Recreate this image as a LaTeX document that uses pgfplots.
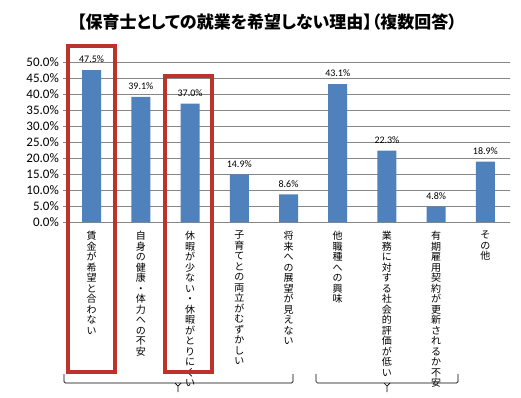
\documentclass[border=0pt]{standalone}
\usepackage{pgfplots}
\pgfplotsset{compat=1.18}
\usepackage{fontspec}
\setmainfont{Noto Sans CJK JP}
\newfontfamily\numfont{Carlito}
\newfontfamily\titlefont[RawFeature=+palt]{Noto Sans CJK JP}
\definecolor{barblue}{RGB}{79,129,189}
\definecolor{boxred}{RGB}{190,50,46}
\definecolor{gridgray}{RGB}{134,134,134}
\makeatletter
\newcommand\vt[1]{\vbox{\baselineskip=10.5pt\lineskiplimit=-20pt\lineskip=0pt\@vt#1\@nil}}
\def\@vt#1{\ifx#1\@nil\else\hbox to 11pt{\hss#1\hss}\expandafter\@vt\fi}
\makeatother
\begin{document}
\begin{tikzpicture}
\useasboundingbox (-67pt,-175pt) rectangle (454pt,222pt);
\begin{axis}[
  at={(0pt,0pt)}, anchor=south west,
  scale only axis, width=443pt, height=160pt,
  xmin=-0.5, xmax=8.5, ymin=0, ymax=50,
  ybar, bar width=19pt,
  ytick={0,5,...,50},
  xtick={0,...,8},
  xticklabels={\vt{賃金が希望と合わない},\vt{自身の健康・体力への不安},\vt{休暇が少ない・休暇がとりにくい},\vt{子育てとの両立がむずかしい},\vt{将来への展望が見えない},\vt{他職種への興味},\vt{業務に対する社会的評価が低い},\vt{有期雇用契約が更新されるか不安},\vt{その他}},
  xticklabel style={font=\fontsize{10}{10.5}\selectfont, anchor=north, inner sep=0pt, yshift=-5pt},
  x tick style={draw=none},
  y tick style={gridgray, line width=0.8pt},
  tick align=outside, major tick length=4pt,
  /pgf/number format/assume math mode=true,
  yticklabel={\pgfmathprintnumber[fixed,fixed zerofill,precision=1]{\tick}\%},
  yticklabel style={font=\numfont\fontsize{13}{13}\selectfont, inner sep=0pt, xshift=-4pt},
  ymajorgrids, grid style={gridgray, line width=0.8pt},
  axis line style={gridgray, line width=0.8pt},
  axis x line*=bottom, axis y line*=left,
  clip=false,
  nodes near coords={\pgfmathprintnumber[fixed,fixed zerofill,precision=1]{\pgfplotspointmeta}\%},
  nodes near coords style={font=\numfont\fontsize{10}{10}\selectfont, anchor=south, inner sep=0pt, yshift=7pt, text=black},
]
\addplot[fill=barblue, draw=none] coordinates {
(0,47.5) (1,39.1) (2,37.0) (3,14.9) (4,8.6) (5,43.1) (6,22.3) (7,4.8) (8,18.9)};
\draw[boxred, line width=4.5pt] (axis cs:-0.48,55.0) rectangle (axis cs:0.475,-46.9);
\draw[boxred, line width=4.5pt] (axis cs:1.49,45.6) rectangle (axis cs:2.45,-46.9);
\end{axis}
\node[font=\titlefont\bfseries\fontsize{17}{17}\selectfont] at (200pt,200pt) {【保育士としての就業を希望しない理由】（複数回答）};
\draw[black, line width=0.7pt, rounded corners=1.5pt] (-3pt,-152pt) -- (-3pt,-161pt) -- (226pt,-161pt) -- (226pt,-152pt);
\draw[black, line width=0.7pt] (108pt,-161pt) -- (111pt,-164pt) -- (114pt,-161pt) (111pt,-164pt) -- (111pt,-170pt);
\draw[black, line width=0.7pt, rounded corners=1.5pt] (249pt,-152pt) -- (249pt,-161pt) -- (391pt,-161pt) -- (391pt,-152pt);
\draw[black, line width=0.7pt] (317pt,-161pt) -- (320pt,-164pt) -- (323pt,-161pt) (320pt,-164pt) -- (320pt,-170pt);
\end{tikzpicture}
\end{document}
